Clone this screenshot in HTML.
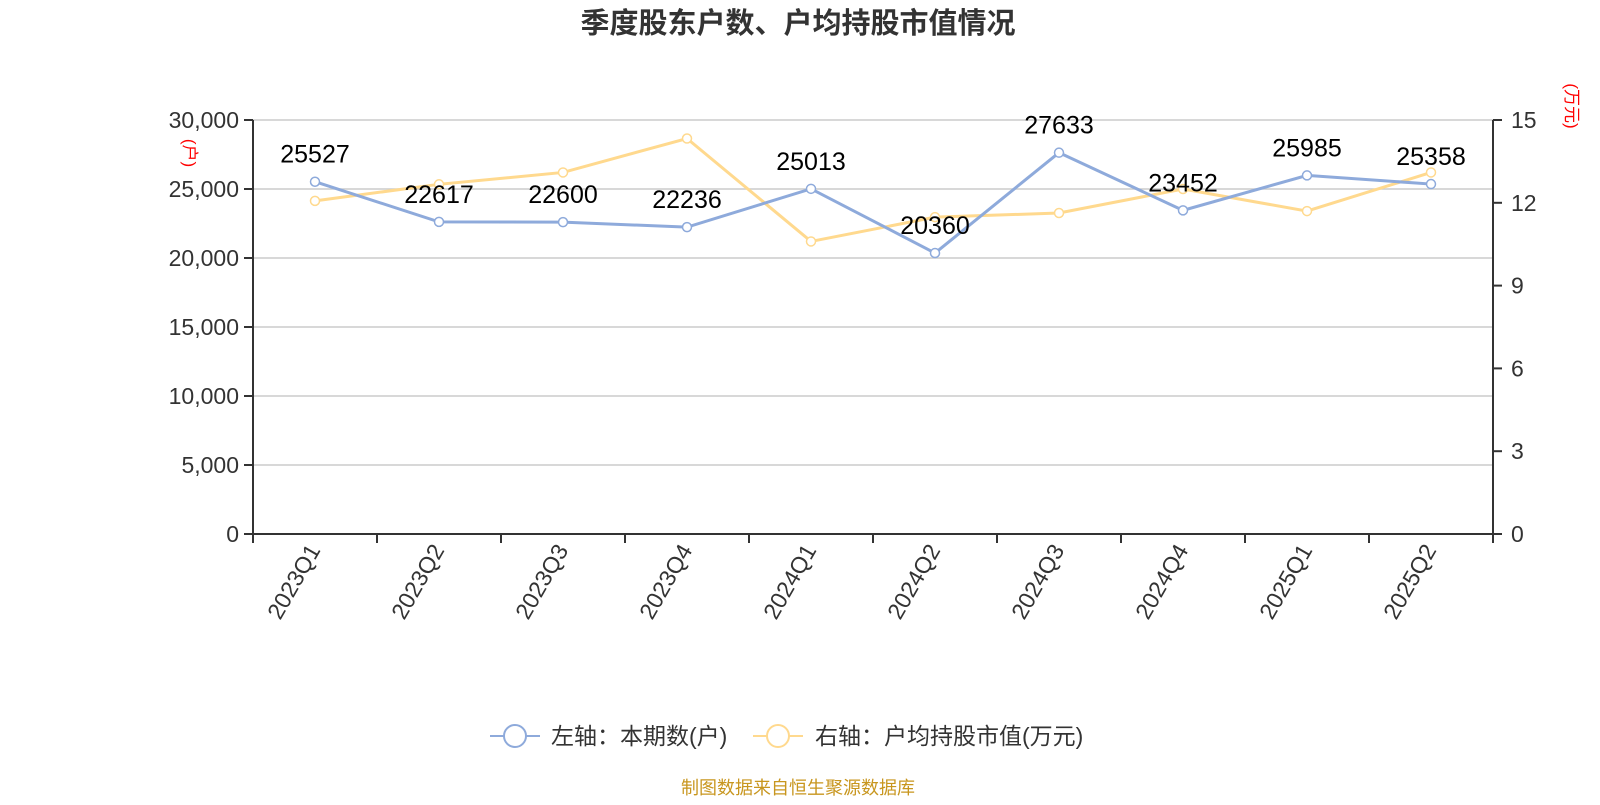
<!DOCTYPE html>
<html><head><meta charset="utf-8"><style>
body{margin:0;background:#fff;width:1600px;height:800px;overflow:hidden}
svg text{font-family:"Liberation Sans","Noto Sans CJK SC",sans-serif}
</style></head><body>
<svg id="chart" width="1600" height="800" xmlns="http://www.w3.org/2000/svg">
<text x="798" y="33" text-anchor="middle" font-size="29" font-weight="bold" fill="#333">季度股东户数、户均持股市值情况</text>
<g id="grid"></g><g id="axes"></g><g id="series"></g>
<text transform="translate(184,153) rotate(90)" text-anchor="middle" font-size="17" fill="#f00">(户)</text>
<text transform="translate(1566,106) rotate(90)" text-anchor="middle" font-size="17" fill="#f00">(万元)</text>
<g>
<line x1="490" y1="736" x2="540" y2="736" stroke="#8eaadb" stroke-width="2"/><circle cx="515" cy="736" r="11" fill="#fff" stroke="#8eaadb" stroke-width="2"/>
<text x="551" y="744" font-size="23" fill="#333">左轴：本期数(户)</text></g>
<g>
<line x1="753" y1="736" x2="803" y2="736" stroke="#ffd98e" stroke-width="2"/><circle cx="778" cy="736" r="11" fill="#fff" stroke="#ffd98e" stroke-width="2"/>
<text x="815" y="744" font-size="23" fill="#333">右轴：户均持股市值(万元)</text></g>
<text x="798" y="794" text-anchor="middle" font-size="18" fill="#c8961e">制图数据来自恒生聚源数据库</text>
</svg>
<script>
const categories=["2023Q1","2023Q2","2023Q3","2023Q4","2024Q1","2024Q2","2024Q3","2024Q4","2025Q1","2025Q2"];
const holders=[25527,22617,22600,22236,25013,20360,27633,23452,25985,25358];
const avgValue=[12.07,12.67,13.1,14.33,10.6,11.48,11.63,12.5,11.7,13.1];
const leftTicks=[0,5000,10000,15000,20000,25000,30000];
const rightTicks=[0,3,6,9,12,15];
const NS="http://www.w3.org/2000/svg";
const X0=253,X1=1493,Y0=534,Y1=120;
const xs=i=>X0+(X1-X0)/categories.length*(i+0.5);
const yl=v=>Y0-(Y0-Y1)*v/30000;
const yr=v=>Y0-(Y0-Y1)*v/15;
function mk(p,t,a){const e=document.createElementNS(NS,t);for(const k in a)e.setAttribute(k,a[k]);p.appendChild(e);return e;}
const grid=document.getElementById('grid'),axes=document.getElementById('axes'),ser=document.getElementById('series');
leftTicks.forEach(v=>{
 const y=yl(v);
 if(v>0){const g=mk(grid,'line',{x1:X0,x2:X1,y1:y,y2:y,stroke:'#ccc','stroke-width':1.5});
 
 }
 mk(axes,'line',{x1:X0-9,x2:X0,y1:y,y2:y,stroke:'#333','stroke-width':2});
 const t=mk(axes,'text',{x:X0-14,y:y+8,'text-anchor':'end','font-size':23,fill:'#333'});
 t.textContent=v.toLocaleString('en-US');
 
 
});
rightTicks.forEach(v=>{
 const y=yr(v);
 mk(axes,'line',{x1:X1,x2:X1+9,y1:y,y2:y,stroke:'#333','stroke-width':2});
 const t=mk(axes,'text',{x:X1+18,y:y+8,'font-size':23,fill:'#333'});
 t.textContent=v;
 
 
});
mk(axes,'line',{x1:X0,x2:X0,y1:Y1,y2:Y0+9,stroke:'#333','stroke-width':2});
mk(axes,'line',{x1:X1,x2:X1,y1:Y1,y2:Y0+9,stroke:'#333','stroke-width':2});
mk(axes,'line',{x1:X0,x2:X1,y1:Y0,y2:Y0,stroke:'#333','stroke-width':2});
for(let i=0;i<=categories.length;i++){const x=X0+(X1-X0)/categories.length*i;mk(axes,'line',{x1:x,x2:x,y1:Y0,y2:Y0+9,stroke:'#333','stroke-width':2});}
categories.forEach((c,i)=>{
 const x=xs(i);
 const t=mk(axes,'text',{transform:`translate(${x+6},${Y0+16}) rotate(-60)`,'text-anchor':'end','font-size':23,fill:'#333'});
 t.textContent=c;
 
 
});
function line(vals,fy,color,name){
 const p=mk(ser,'polyline',{points:vals.map((v,i)=>xs(i)+','+fy(v)).join(' '),fill:'none',stroke:color,'stroke-width':3});
 
 
 vals.forEach((v,i)=>{
  const c=mk(ser,'circle',{cx:xs(i),cy:fy(v),r:4.5,fill:'#fff',stroke:color,'stroke-width':1.5});
  
  
 });
}
line(avgValue,yr,'#ffd98e','avg-value');
line(holders,yl,'#8eaadb','holders');
holders.forEach((v,i)=>{
 const t=mk(ser,'text',{x:xs(i),y:yl(v)-19,'text-anchor':'middle','font-size':25,fill:'#000'});
 t.textContent=v;
 
 
});
</script>
</body></html>
